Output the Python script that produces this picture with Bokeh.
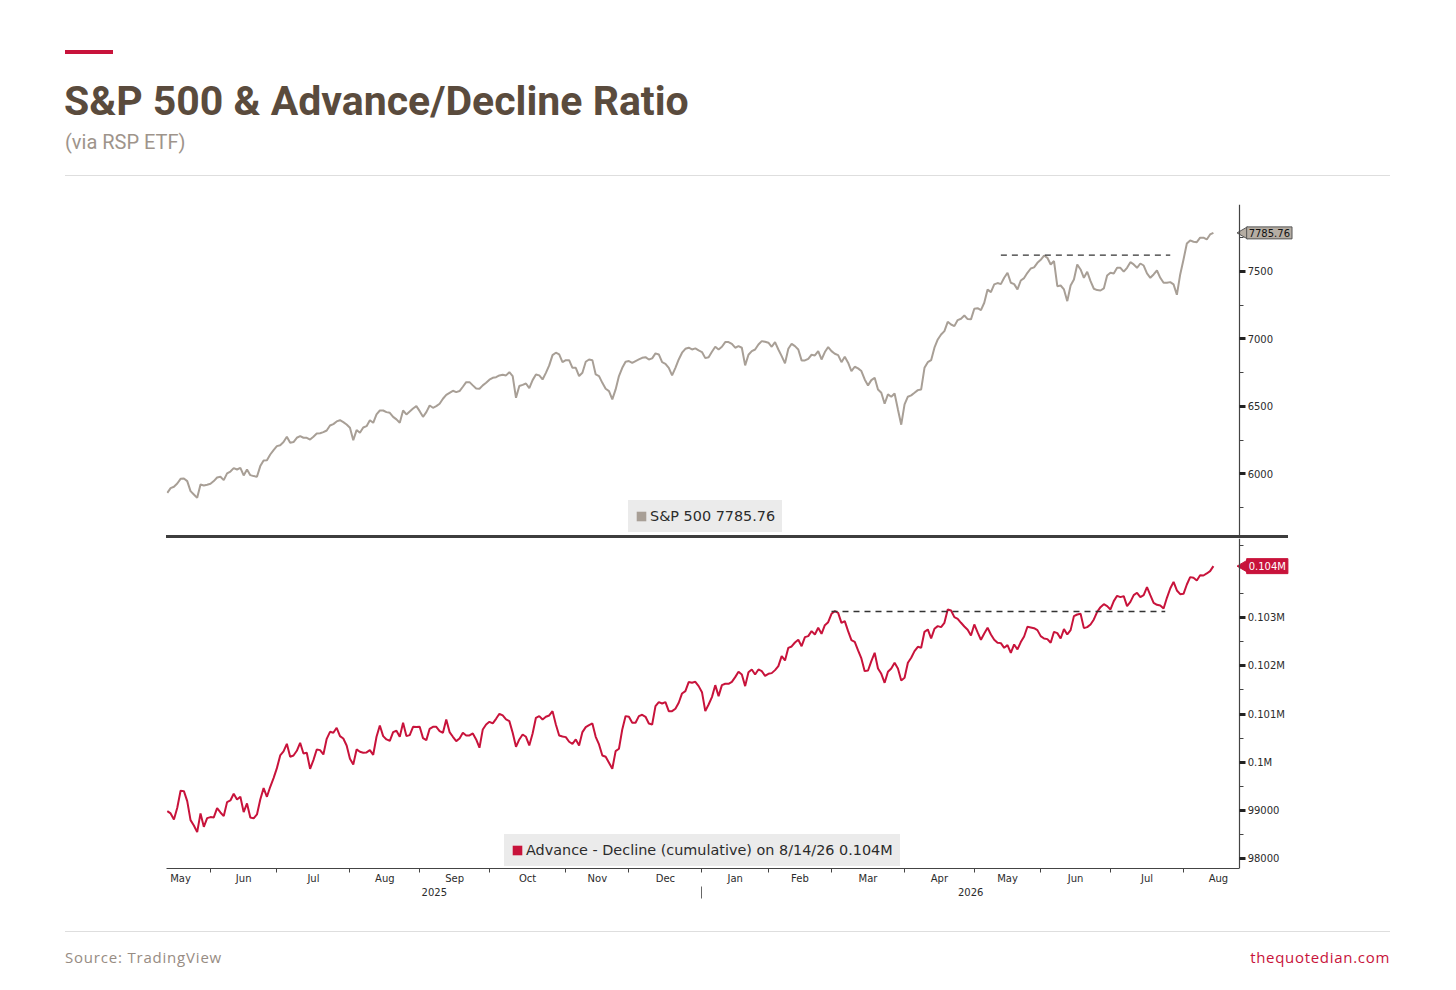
import numpy as np
from bokeh.plotting import figure
from bokeh.models import (Range1d, LinearAxis, FixedTicker, Legend, LegendItem, Label,
                          Div, ColumnDataSource)
from bokeh.layouts import column
from bokeh.embed import file_html
from bokeh.resources import INLINE

# ---------------- data ----------------
month_labels = ["May", "Jun", "Jul", "Aug", "Sep", "Oct", "Nov", "Dec",
                "Jan", "Feb", "Mar", "Apr", "May", "Jun", "Jul", "Aug"]
# trading days shown in each month (first month partial from May 13, last through Aug 14)
month_days = [13, 20, 22, 21, 21, 23, 19, 22, 20, 19, 22, 21, 20, 21, 22, 10]
# full-month trading day counts (used to centre month labels)
month_full = [21, 20, 22, 21, 21, 23, 19, 22, 20, 19, 22, 21, 20, 21, 22, 21]
year_labels = ["2025", "2026"]

spx = [5860, 5895, 5905, 5929, 5964, 5966, 5947, 5873, 5848, 5823,
       5922, 5915, 5920, 5927, 5947, 5974, 5979, 5954, 6004, 6018,
       6043, 6033, 6045, 5989, 6033, 5991, 5984, 5979, 6058, 6100,
       6102, 6144, 6176, 6206, 6213, 6236, 6275, 6231, 6236, 6268,
       6280, 6268, 6268, 6255, 6275, 6300, 6302, 6310, 6322, 6359,
       6369, 6389, 6398, 6384, 6366, 6342, 6250, 6325, 6305, 6344,
       6354, 6398, 6379, 6441, 6470, 6470, 6458, 6453, 6423, 6404,
       6379, 6470, 6441, 6463, 6485, 6502, 6465, 6423, 6458, 6507,
       6490, 6502, 6520, 6557, 6586, 6601, 6616, 6606, 6614, 6646,
       6680, 6680, 6656, 6633, 6631, 6656, 6675, 6698, 6712, 6717,
       6730, 6735, 6730, 6754, 6725, 6564, 6651, 6660, 6670, 6636,
       6695, 6737, 6730, 6700, 6749, 6804, 6880, 6898, 6885, 6828,
       6843, 6843, 6786, 6786, 6725, 6749, 6831, 6848, 6843, 6737,
       6725, 6675, 6631, 6614, 6552, 6626, 6725, 6786, 6831, 6836,
       6823, 6836, 6848, 6860, 6865, 6848, 6856, 6893, 6885, 6828,
       6816, 6786, 6730, 6786, 6848, 6898, 6927, 6935, 6922, 6930,
       6915, 6903, 6858, 6865, 6905, 6942, 6922, 6942, 6977, 6977,
       6964, 6935, 6947, 6935, 6804, 6883, 6910, 6922, 6959, 6984,
       6979, 6972, 6942, 6977, 6922, 6873, 6819, 6927, 6964, 6947,
       6922, 6841, 6841, 6853, 6883, 6878, 6910, 6848, 6903, 6940,
       6910, 6890, 6880, 6828, 6868, 6824, 6762, 6794, 6782, 6762,
       6700, 6656, 6695, 6712, 6626, 6601, 6520, 6589, 6572, 6596,
       6478, 6365, 6515, 6572, 6582, 6601, 6621, 6626, 6786, 6828,
       6843, 6935, 6996, 7033, 7058, 7127, 7107, 7095, 7140, 7150,
       7174, 7147, 7145, 7224, 7228, 7214, 7268, 7367, 7347, 7404,
       7414, 7406, 7453, 7490, 7416, 7406, 7367, 7433, 7451, 7490,
       7522, 7530, 7564, 7586, 7618, 7601, 7552, 7577, 7391, 7396,
       7367, 7280, 7396, 7441, 7552, 7515, 7453, 7498, 7428, 7372,
       7362, 7359, 7374, 7470, 7490, 7485, 7527, 7527, 7498, 7527,
       7569, 7552, 7527, 7559, 7544, 7485, 7453, 7478, 7507, 7453,
       7416, 7416, 7421, 7404, 7327, 7478, 7589, 7707, 7730, 7720,
       7717, 7750, 7750, 7737, 7774, 7785.76]

adl = [98991, 98943, 98819, 99060, 99412, 99405, 99198, 98805, 98694, 98556,
       98943, 98667, 98846, 98867, 98860, 99053, 98963, 98888, 99177, 99212,
       99350, 99233, 99288, 98970, 99150, 98860, 98840, 98922, 99233, 99467,
       99288, 99495, 99675, 99881, 100143, 100226, 100385, 100116, 100143, 100240,
       100406, 100185, 100199, 99867, 100047, 100268, 100254, 100164, 100488, 100633,
       100613, 100716, 100544, 100495, 100350, 100074, 99957, 100268, 100219, 100199,
       100206, 100254, 100157, 100530, 100764, 100544, 100475, 100447, 100626, 100654,
       100530, 100820, 100544, 100564, 100737, 100730, 100737, 100502, 100461, 100695,
       100737, 100737, 100647, 100613, 100889, 100627, 100530, 100440, 100495, 100613,
       100558, 100558, 100599, 100475, 100303, 100682, 100785, 100840, 100806, 100902,
       101006, 100971, 100889, 100854, 100613, 100323, 100475, 100578, 100530, 100351,
       100599, 100923, 100958, 100889, 100944, 100971, 101061, 100785, 100558, 100537,
       100523, 100427, 100385, 100475, 100351, 100627, 100730, 100771, 100806, 100530,
       100371, 100143, 100116, 99992, 99868, 100233, 100282, 100682, 100958, 100944,
       100820, 100820, 100958, 100985, 100944, 100806, 100785, 101165, 101248, 101220,
       101248, 101061, 101061, 101110, 101234, 101427, 101476, 101662, 101648, 101668,
       101579, 101454, 101061, 101199, 101351, 101599, 101372, 101599, 101627, 101627,
       101668, 101765, 101875, 101820, 101579, 101868, 101924, 101820, 101924, 101889,
       101792, 101834, 101848, 101910, 101993, 102200, 102110, 102372, 102400, 102482,
       102538, 102406, 102593, 102614, 102717, 102648, 102786, 102662, 102841, 102903,
       103076, 103131, 103096, 102889, 102924, 102717, 102531, 102496, 102317, 102151,
       101889, 101903, 102096, 102269, 101944, 101834, 101648, 101875, 101944, 102062,
       101944, 101696, 101751, 102062, 102165, 102303, 102393, 102372, 102703, 102752,
       102565, 102765, 102821, 102800, 102889, 103166, 103145, 103007, 102972, 102890,
       102814, 102745, 102627, 102855, 102690, 102538, 102669, 102786, 102648, 102538,
       102476, 102469, 102372, 102427, 102269, 102441, 102338, 102490, 102607, 102807,
       102793, 102779, 102738, 102614, 102565, 102552, 102476, 102703, 102676, 102565,
       102759, 102648, 102738, 103028, 103062, 103076, 102779, 102800, 102855, 102959,
       103117, 103214, 103276, 103235, 103166, 103338, 103448, 103421, 103442, 103235,
       103324, 103462, 103511, 103421, 103462, 103628, 103462, 103304, 103262, 103248,
       103186, 103407, 103600, 103738, 103559, 103483, 103490, 103683, 103835, 103821,
       103766, 103876, 103869, 103911, 103959, 104063]

# resistance (dashed) lines: [start index, end index] and level
spx_res_x = [251, 302]
spx_res_y = 7621
adl_res_x = [200, 300.5]
adl_res_y = 103125

spx_ticks = [6000, 6500, 7000, 7500]
spx_minor = [5750, 6250, 6750, 7250, 7750]
adl_ticks = [98000, 99000, 100000, 101000, 102000, 103000]
adl_minor = [98500, 99500, 100500, 101500, 102500, 103500, 104500]
adl_tick_labels = ["98000", "99000", "0.1M", "0.101M", "0.102M", "0.103M"]

title_text = "S&amp;P 500 &amp; Advance/Decline Ratio"
subtitle_text = "(via RSP ETF)"
source_text = "Source: TradingView"
site_text = "thequotedian.com"
spx_legend = "S&P 500 7785.76"
adl_legend = "Advance - Decline (cumulative) on 8/14/26 0.104M"
spx_tag = "7785.76"
adl_tag = "0.104M"

# ---------------- styling ----------------
GRAY = "#a89f96"
RED = "#c8133b"
TXT = "#2b2b2b"
AXC = "#444444"
LEG_BG = "#ebebeb"
FONT = "DejaVu Sans"
LB, FW, RB = 166, 1133, 141          # frame from x=167 to x=1300
PX_PER_DAY = 3.321

X0 = -0.24                            # left edge of frame (index units)
AX = 322.9                            # index where the price axis sits (x=1240)
X1 = X0 + FW / PX_PER_DAY             # right edge of the (wider) frame
idx = list(range(len(spx)))
src = ColumnDataSource(dict(x=idx, spx=spx, adl=adl))
nan1 = np.array([np.nan])

bounds = list(np.cumsum([0] + month_days))
minor_month = [float(b) for b in bounds[1:-1]]
mids = []
for k, full in enumerate(month_full):
    start = bounds[k + 1] - full if k == 0 else bounds[k]
    m = start + full / 2.0
    m = min(max(m, X0 + 4.2), AX - 4.2)
    mids.append(round(float(m), 1))
year_break = float(bounds[8])
year_pos = [round((X0 + year_break) / 2, 1), round((year_break + AX) / 2, 1)]


def style_right_axis(ax):
    ax.fixed_location = AX
    ax.axis_line_color = AXC
    ax.axis_line_width = 1.2
    ax.major_tick_line_color = "#222222"
    ax.major_tick_line_width = 3
    ax.major_tick_out = 6
    ax.major_tick_in = 0
    ax.minor_tick_line_color = AXC
    ax.minor_tick_out = 4
    ax.minor_tick_in = 0
    ax.major_label_text_font = FONT
    ax.major_label_text_font_size = "10px"
    ax.major_label_text_color = TXT
    ax.major_label_standoff = 2


def make_panel(ymin, ymax, fh, top_border, bottom_border):
    p = figure(frame_width=FW, frame_height=fh,
               x_range=Range1d(X0, X1), y_range=Range1d(ymin, ymax),
               output_backend="svg", toolbar_location=None,
               x_axis_location=None, y_axis_location="right",
               min_border_left=LB, min_border_right=RB,
               min_border_top=top_border, min_border_bottom=bottom_border)
    p.outline_line_color = None
    p.grid.visible = False
    p.background_fill_color = "white"
    p.border_fill_color = "white"
    return p


def series_legend(label, rend, vx, vy):
    return Legend(items=[LegendItem(label=label, renderers=[rend])], location=(vx, vy),
                  background_fill_color=LEG_BG, background_fill_alpha=1.0,
                  border_line_color=LEG_BG, border_line_width=1,
                  label_text_font=FONT, label_text_font_size="14.4px",
                  label_text_color=TXT, glyph_width=12, glyph_height=12, label_height=18,
                  padding=6, margin=0, label_standoff=3)


def add_tag(p, yv, text, bg, fg, border):
    p.scatter(x=[AX + 1.3], y=[yv], marker="triangle", angle=np.pi / 2, size=12,
              fill_color=bg, line_color=border, line_width=1)
    p.add_layout(Label(x=AX, y=yv, x_offset=7, text=text, text_baseline="middle",
                       text_align="left", text_font=FONT, text_font_size="10px",
                       text_color=fg, background_fill_color=bg, border_line_color=border,
                       padding=2))


# ---------------- header ----------------
header_html = f"""
<div style="position:relative;width:1440px;height:199px;">
 <div style="position:absolute;left:65px;top:50px;width:48px;height:4px;background:{RED};"></div>
 <div style="position:absolute;left:64px;top:81px;font-family:Roboto;font-weight:bold;font-size:41px;line-height:1;color:#5a4b3d;white-space:nowrap;">{title_text}</div>
 <div style="position:absolute;left:65px;top:132px;font-family:Roboto;font-size:20px;line-height:1;color:#9e948b;white-space:nowrap;">{subtitle_text}</div>
 <div style="position:absolute;left:65px;top:175px;width:1325px;height:1px;background:#dedede;"></div>
</div>"""
hdr = Div(text=header_html, width=1440, height=199, margin=0)

# ---------------- top panel (S&P 500) ----------------
p1 = make_panel(5544, 7996, 331, 5, 0)
ya1 = p1.yaxis[0]
ya1.ticker = FixedTicker(ticks=spx_ticks, minor_ticks=spx_minor)
style_right_axis(ya1)
p1.line("x", "spx", source=src, line_color=GRAY, line_width=2)
p1.line(x=spx_res_x, y=[spx_res_y, spx_res_y], line_color="#333333", line_width=1.4,
        line_dash="6 5")
d1 = p1.quad(left=nan1, right=nan1, top=nan1, bottom=nan1, fill_color=GRAY, line_color=None)
p1.add_layout(series_legend(spx_legend, d1, 629 - 167, 3))
add_tag(p1, spx[-1], spx_tag, "#b5ada3", "#111111", "#555555")

# ---------------- separator ----------------
sep = Div(text="", width=1122, height=3, margin=(0, 0, 0, LB),
          styles={"background-color": "#3d3d3d"})

# ---------------- bottom panel (A/D line) ----------------
p2 = make_panel(97803, 104635, 330, 0, 36)
ya2 = p2.yaxis[0]
ya2.ticker = FixedTicker(ticks=adl_ticks, minor_ticks=adl_minor)
ya2.major_label_overrides = {t: l for t, l in zip(adl_ticks, adl_tick_labels)}
style_right_axis(ya2)
p2.line("x", "adl", source=src, line_color=RED, line_width=2)
p2.line(x=adl_res_x, y=[adl_res_y, adl_res_y], line_color="#333333", line_width=1.4,
        line_dash="6 5")
d2 = p2.quad(left=nan1, right=nan1, top=nan1, bottom=nan1, fill_color=RED, line_color=None)
p2.add_layout(series_legend(adl_legend, d2, 505 - 167, 2))
add_tag(p2, adl[-1], adl_tag, RED, "white", RED)

ax_m = LinearAxis(ticker=FixedTicker(ticks=mids, minor_ticks=minor_month),
                  major_label_overrides={m: l for m, l in zip(mids, month_labels)},
                  bounds=(X0, AX))
ax_m.axis_line_color = AXC
ax_m.major_tick_line_color = None
ax_m.major_tick_out = 0
ax_m.major_tick_in = 0
ax_m.minor_tick_line_color = AXC
ax_m.minor_tick_out = 4
ax_m.minor_tick_in = 0
ax_m.major_label_standoff = 0
ax_m.major_label_text_font = FONT
ax_m.major_label_text_font_size = "10px"
ax_m.major_label_text_color = TXT
p2.add_layout(ax_m, "below")

ax_y = LinearAxis(ticker=FixedTicker(ticks=year_pos, minor_ticks=[year_break]),
                  major_label_overrides={m: l for m, l in zip(year_pos, year_labels)},
                  bounds=(X0, AX))
ax_y.axis_line_color = None
ax_y.major_tick_line_color = None
ax_y.major_tick_out = 0
ax_y.major_tick_in = 0
ax_y.minor_tick_line_color = "#666666"
ax_y.minor_tick_out = 12
ax_y.minor_tick_in = 0
ax_y.major_label_standoff = -11
ax_y.major_label_text_font = FONT
ax_y.major_label_text_font_size = "10px"
ax_y.major_label_text_color = TXT
p2.add_layout(ax_y, "below")

# ---------------- footer ----------------
footer_html = f"""
<div style="position:relative;width:1440px;height:77px;">
 <div style="position:absolute;left:65px;top:27px;width:1325px;height:1px;background:#dedede;"></div>
 <div style="position:absolute;left:65px;top:46px;font-family:'Open Sans';font-size:15px;line-height:1;letter-spacing:0.8px;color:#978c83;white-space:nowrap;">{source_text}</div>
 <div style="position:absolute;right:50px;top:46px;font-family:'Open Sans';font-size:15px;line-height:1;letter-spacing:0.7px;color:{RED};white-space:nowrap;">{site_text}</div>
</div>"""
ftr = Div(text=footer_html, width=1440, height=77, margin=0)

layout = column(hdr, p1, sep, p2, ftr, spacing=0)
open("out.html", "w").write(file_html(layout, INLINE))
